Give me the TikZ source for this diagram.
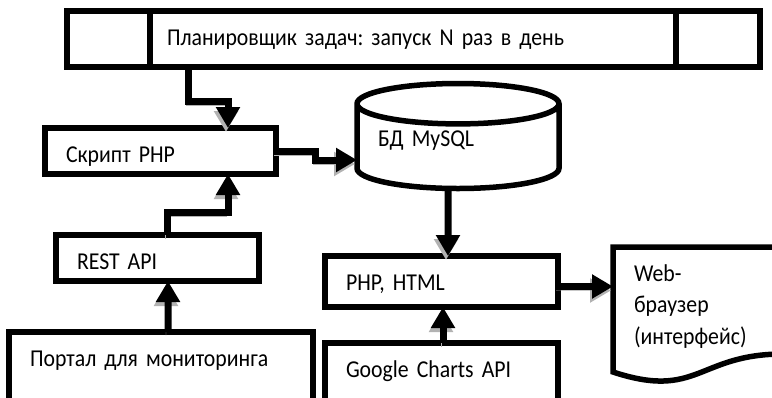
\documentclass[tikz,border=0pt]{standalone}
\usepackage{fontspec}
\setmainfont[FakeStretch=0.9]{Carlito}
\usepackage{tikz}
\usetikzlibrary{shapes,arrows.meta}
\tikzstyle{block} = [rectangle, draw, line width=5.5bp, outer sep=0pt, anchor=north west,
    inner xsep=21bp, inner ysep=6bp, text height=28bp, text depth=6bp, align=left]
\tikzstyle{db} = [draw,
  shape=cylinder,
  aspect=0.2,
  line width=5.5bp,
  outer sep=0pt,
  minimum height=105bp,
  minimum width=202bp,
  inner xsep=21bp,
  text width=160bp,
  text height=6bp,
  text depth=20bp, % pushes the text up into the body
  align=left,
  anchor=shape center,
  shape border rotate=90
]
\tikzstyle{line} = [draw, line width=7bp, -{Triangle[length=21bp, width=23bp]},
    preaction={draw, gray!60, transform canvas={xshift=-2bp, yshift=-4bp}}]

\frenchspacing
\begin{document}
\begin{tikzpicture}[x=1bp, y=-1bp, font=\fontsize{24.2bp}{31.5bp}\selectfont]
  \useasboundingbox (0,0) rectangle (772,397);
  \clip (0,0) rectangle (772,397);
  % Place nodes
  \node [block, inner xsep=100bp, text width=493bp, text depth=16bp] (sched) at (67,11) {Планировщик задач: запуск N раз в день};
  \draw [line width=5.5bp] ([xshift=83bp]sched.north west) -- ([xshift=83bp]sched.south west);
  \draw [line width=5.5bp] ([xshift=-84bp]sched.north east) -- ([xshift=-84bp]sched.south east);
  \node [block, text width=189bp] (script) at (45,128) {Скрипт PHP};
  \node [block, text width=161bp] (rest) at (56,235) {REST API};
  \node [block, text width=262bp, text depth=80bp] (portal) at (9,332) {Портал для мониторинга};
  \node [db] (mysql) at (458,136) {БД MySQL};
  \node [block, text width=191bp, text depth=11bp] (php) at (325,256) {PHP, HTML};
  \node [block, text width=191bp, text depth=60bp] (charts) at (325,343) {Google Charts API};
  % browser is a document shape, outline drawn by hand
  \node [block, draw=none, text width=128bp, text depth=39bp] (browser) at (613,247) {Web-\\браузер\\(интерфейс)};
  \draw [line width=5.5bp] (613,247) -- (783,247) -- (783,354) .. controls (698,354) and (698,400) .. (613,372) -- cycle;

  % Draw edges
  \path [line] ([xshift=121bp]sched.south west) -- ++(0,34) -| ([xshift=183bp]script.north west);
  \path [line] ([xshift=111bp]rest.north west) -- ++(0,-23) -| ([xshift=183bp]script.south west);
  \path [line] ([xshift=159bp]portal.north west) -- ([xshift=112bp]rest.south west);
  \path [line] (script.east) -- ++(39,0) |- ([xshift=-101bp, yshift=-24bp]mysql.shape center);
  \path [line] ([xshift=-10bp]mysql.south) -- ([xshift=123bp]php.north west);
  \path [line] ([xshift=118bp]charts.north west) -- ([xshift=118bp]php.south west);
  \path [line] ([yshift=-5bp]php.east) -- (browser.west);
\end{tikzpicture}
\end{document}
